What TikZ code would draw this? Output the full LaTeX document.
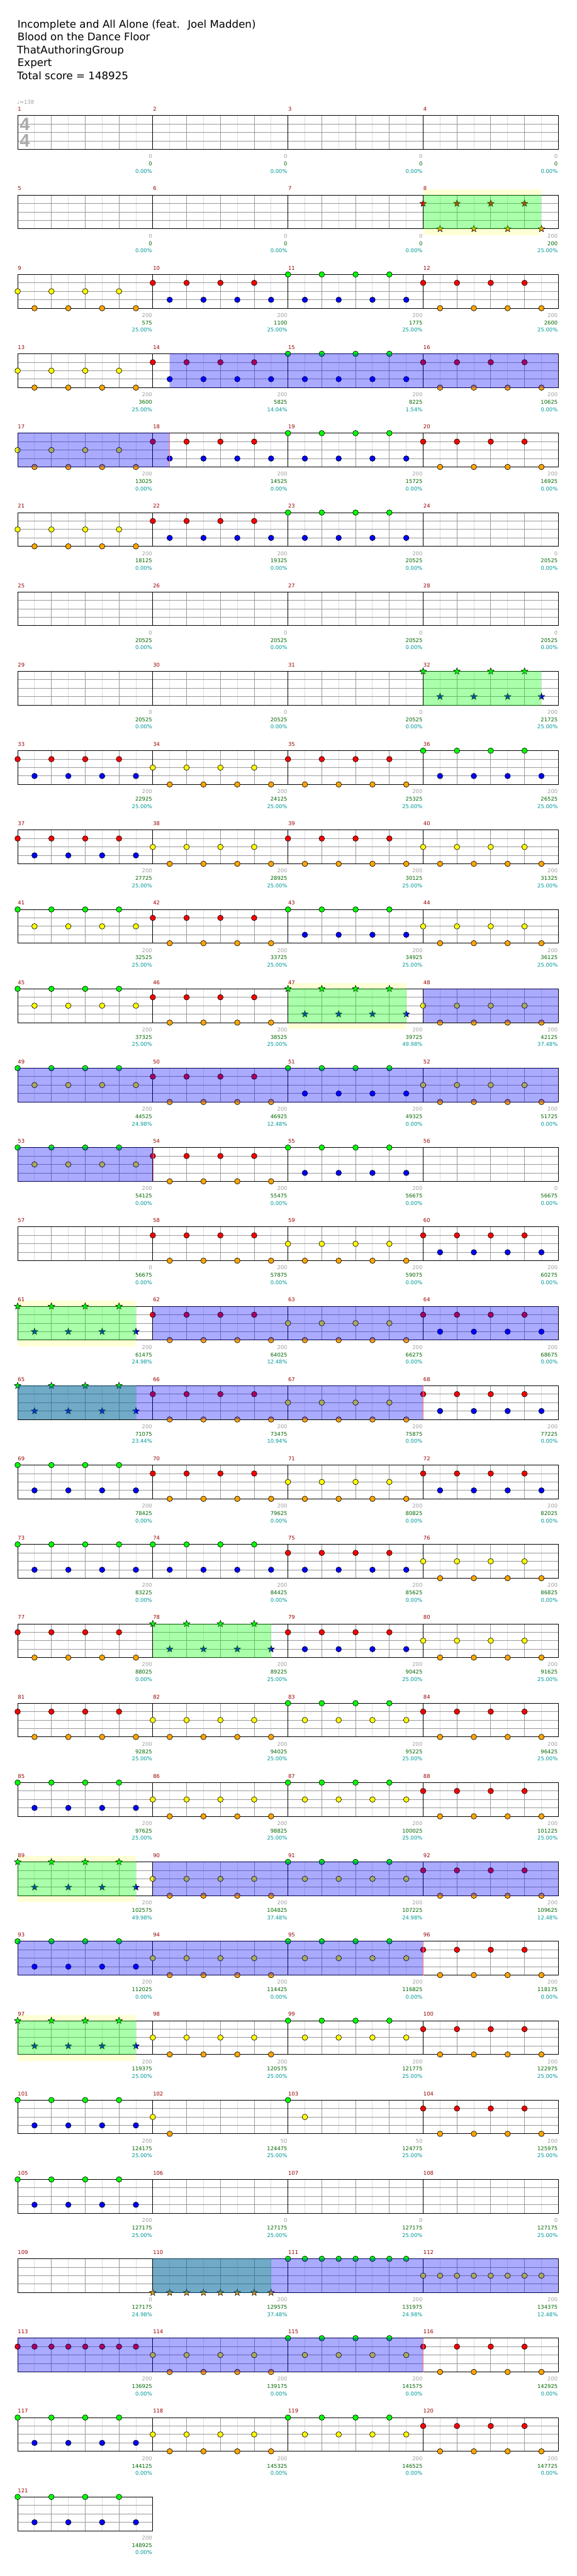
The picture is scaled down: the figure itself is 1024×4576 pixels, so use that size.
\documentclass[tikz,border=0pt]{standalone}
\usepackage{fontspec}
\setmainfont{DejaVu Sans}
\newfontfamily\lblfont{DejaVu Sans}
\newfontfamily\tsfont{Liberation Sans}
\definecolor{mnred}{RGB}{153,0,0}
\definecolor{scgray}{RGB}{160,160,160}
\definecolor{scgreen}{RGB}{0,102,0}
\definecolor{sccyan}{RGB}{0,153,153}
\definecolor{gridd}{RGB}{153,153,153}
\definecolor{gridl}{RGB}{221,221,221}
\definecolor{spyel}{RGB}{255,255,213}
\definecolor{tsgray}{RGB}{170,170,170}
\definecolor{lane1}{RGB}{0,255,0}
\definecolor{lane2}{RGB}{255,0,0}
\definecolor{lane3}{RGB}{255,255,0}
\definecolor{lane4}{RGB}{0,0,255}
\definecolor{lane5}{RGB}{255,165,0}
\newcommand\mpos[1]{\pgfmathtruncatemacro\rw{(#1-1)/4}\pgfmathsetmacro\xo{31.3+240*(#1-1-4*\rw)}\pgfmathsetmacro\yo{205.5+141*\rw}}
\newcommand\dotn[3]{\filldraw[fill=#3,draw=black,line width=0.7pt] (#1,#2) circle[radius=4.9pt];}
\newcommand\spike[3]{\filldraw[fill=#3,draw=black,line width=0.6pt,shift={(#1,#2)}] (90:6.2pt) -- (126:2.6pt) -- (162:6.2pt) -- (198:2.6pt) -- (234:6.2pt) -- (270:2.6pt) -- (306:6.2pt) -- (342:2.6pt) -- (18:6.2pt) -- (54:2.6pt) -- cycle;}
\tikzset{
  titletext/.style={anchor=base west,inner sep=0pt,font=\fontsize{18.6pt}{22pt}\selectfont},
  lbl/.style={anchor=base east,inner sep=0pt,font=\lblfont\fontsize{9.4pt}{11pt}\selectfont},
  mnum/.style={anchor=base west,inner sep=0pt,text=mnred,font=\lblfont\fontsize{9.4pt}{11pt}\selectfont},
  offbeat/.style={draw=gridl,line width=1pt},
  onbeat/.style={draw=gridd,line width=1pt},
  hline/.style={draw=gridd,line width=1pt},
  barline/.style={draw=black,line width=1pt},
  odfill/.style={fill=blue,fill opacity=0.333},
  spfill/.style={fill=green,fill opacity=0.333},
  tsig/.style={inner sep=0pt,text=tsgray,font=\tsfont\bfseries\fontsize{32pt}{32pt}\selectfont}
}
\begin{document}
\begin{tikzpicture}[x=1pt,y=-1pt]
\useasboundingbox (0,0) rectangle (1024,4576);
\fill[white] (0,0) rectangle (1024,4576);
% title block
\node[titletext] (t1) at (31,49.3) {Incomplete and All Alone (feat.~ Joel Madden)};
\node[titletext] (t2) at (31,72.3) {Blood on the Dance Floor};
\node[titletext] (t3) at (30,95.3) {ThatAuthoringGroup};
\node[titletext] (t4) at (31,118.3) {Expert};
\node[titletext] (t5) at (30,141.3) {Total score = 148925};
\node[anchor=base west,inner sep=0pt,text=scgray,font=\lblfont\fontsize{9.4pt}{11pt}\selectfont] (tempo) at (30,185) {♩=138};
% star power yellow backgrounds
\foreach \m in {8,47,61,89,97}{\mpos{\m}\fill[spyel] (\xo,\yo-10.5) rectangle (\xo+210,\yo+71);}
% staffs
\foreach \k in {0,...,30}{
  \pgfmathsetmacro\yo{205.5+141*\k}
  \ifnum\k=30 \def\nm{1}\else\def\nm{4}\fi
  \pgfmathsetmacro\xe{31.3+240*\nm}
  \pgfmathtruncatemacro\nsub{8*\nm-1}
  \fill[white] (31.3,\yo) rectangle (\xe,\yo+60);
  \foreach \i in {1,...,\nsub}{\pgfmathsetmacro\vx{31.3+30*\i}\ifodd\i\relax\draw[offbeat] (\vx,\yo) -- (\vx,\yo+60);\fi}
  \foreach \yy in {15,30,45}{\draw[hline] (31.3,\yo+\yy) -- (\xe,\yo+\yy);}
  \foreach \i in {1,...,\nsub}{\pgfmathsetmacro\vx{31.3+30*\i}\pgfmathtruncatemacro\md{mod(\i,8)}\ifodd\i\relax\else\ifnum\md=0\relax\draw[barline] (\vx,\yo) -- (\vx,\yo+60);\else\draw[onbeat] (\vx,\yo) -- (\vx,\yo+60);\fi\fi}
  \draw[barline] (31.3,\yo) rectangle (\xe,\yo+60);
}
% time signature
\node[tsig] (ts1) at (44,220.7) {4};
\node[tsig] (ts2) at (44,250.3) {4};
% notes
\foreach \m/\e/\o/\s/\n in {8/2/5/1/8,9/3/5/0/8,10/2/4/0/8,11/1/4/0/8,12/2/5/0/8,13/3/5/0/8,14/2/4/0/8,15/1/4/0/8,16/2/5/0/8,17/3/5/0/8,18/2/4/0/8,19/1/4/0/8,20/2/5/0/8,21/3/5/0/8,22/2/4/0/8,23/1/4/0/8,32/1/4/1/8,33/2/4/0/8,34/3/5/0/8,35/2/5/0/8,36/1/4/0/8,37/2/4/0/8,38/3/5/0/8,39/2/5/0/8,40/3/5/0/8,41/1/3/0/8,42/2/5/0/8,43/1/4/0/8,44/3/5/0/8,45/1/3/0/8,46/2/5/0/8,47/1/4/1/8,48/3/5/0/8,49/1/3/0/8,50/2/5/0/8,51/1/4/0/8,52/3/5/0/8,53/1/3/0/8,54/2/5/0/8,55/1/4/0/8,58/2/5/0/8,59/3/5/0/8,60/2/4/0/8,61/1/4/1/8,62/2/5/0/8,63/3/5/0/8,64/2/4/0/8,65/1/4/1/8,66/2/5/0/8,67/3/5/0/8,68/2/4/0/8,69/1/4/0/8,70/2/5/0/8,71/3/5/0/8,72/2/4/0/8,73/1/4/0/8,74/1/4/0/8,75/2/4/0/8,76/3/5/0/8,77/2/5/0/8,78/1/4/1/8,79/2/4/0/8,80/3/5/0/8,81/2/5/0/8,82/3/5/0/8,83/1/3/0/8,84/2/5/0/8,85/1/4/0/8,86/3/5/0/8,87/1/3/0/8,88/2/5/0/8,89/1/4/1/8,90/3/5/0/8,91/1/3/0/8,92/2/5/0/8,93/1/4/0/8,94/3/5/0/8,95/1/3/0/8,96/2/5/0/8,97/1/4/1/8,98/3/5/0/8,99/1/3/0/8,100/2/5/0/8,101/1/4/0/8,102/3/5/0/2,103/1/3/0/2,104/2/5/0/8,105/1/4/0/8,110/5/5/1/8,111/1/1/0/8,112/3/3/0/8,113/2/2/0/8,114/3/5/0/8,115/1/3/0/8,116/2/5/0/8,117/1/4/0/8,118/3/5/0/8,119/1/3/0/8,120/2/5/0/8,121/1/4/0/8}{
  \mpos{\m}
  \foreach \p in {0,...,7}{
    \ifnum\p<\n\relax
      \ifodd\p\relax\edef\lnum{\o}\else\edef\lnum{\e}\fi
      \ifnum\lnum>0\relax
        \pgfmathsetmacro\nx{\xo+30*\p}
        \pgfmathsetmacro\ny{\yo+15*(\lnum-1)}
        \ifnum\s=1\relax\spike{\nx}{\ny}{lane\lnum}\else\dotn{\nx}{\ny}{lane\lnum}\fi
      \fi
    \fi}
}
% star power regions
\foreach \m in {8,32,47,61,65,78,89,97,110}{\mpos{\m}\fill[spfill] (\xo,\yo-0.5) rectangle (\xo+210,\yo+60.5);}
% overdrive regions
\foreach \k/\a/\b/\z in {3/301.3/991.3/0,4/31.3/301.3/1,11/751.3/991.3/0,12/31.3/991.3/0,13/31.3/271.3/1,15/271.3/991.3/0,16/31.3/751.3/1,22/271.3/991.3/0,23/31.3/751.3/1,27/271.3/991.3/0,28/31.3/751.3/1}{
  \pgfmathsetmacro\yo{205.5+141*\k}
  \fill[odfill] (\a,\yo-0.5) rectangle (\b,\yo+60.5);
  \ifnum\z=1\relax\draw[red!55,line width=0.6pt] (\b,\yo) -- (\b,\yo+60);\fi
}
% labels
\foreach \m/\a/\b/\c in {1/0/0/0.00,2/0/0/0.00,3/0/0/0.00,4/0/0/0.00,5/0/0/0.00,6/0/0/0.00,7/0/0/0.00,8/200/200/25.00,9/200/575/25.00,10/200/1100/25.00,11/200/1775/25.00,12/200/2600/25.00,13/200/3600/25.00,14/200/5825/14.04,15/200/8225/1.54,16/200/10625/0.00,17/200/13025/0.00,18/200/14525/0.00,19/200/15725/0.00,20/200/16925/0.00,21/200/18125/0.00,22/200/19325/0.00,23/200/20525/0.00,24/0/20525/0.00,25/0/20525/0.00,26/0/20525/0.00,27/0/20525/0.00,28/0/20525/0.00,29/0/20525/0.00,30/0/20525/0.00,31/0/20525/0.00,32/200/21725/25.00,33/200/22925/25.00,34/200/24125/25.00,35/200/25325/25.00,36/200/26525/25.00,37/200/27725/25.00,38/200/28925/25.00,39/200/30125/25.00,40/200/31325/25.00,41/200/32525/25.00,42/200/33725/25.00,43/200/34925/25.00,44/200/36125/25.00,45/200/37325/25.00,46/200/38525/25.00,47/200/39725/49.98,48/200/42125/37.48,49/200/44525/24.98,50/200/46925/12.48,51/200/49325/0.00,52/200/51725/0.00,53/200/54125/0.00,54/200/55475/0.00,55/200/56675/0.00,56/0/56675/0.00,57/0/56675/0.00,58/200/57875/0.00,59/200/59075/0.00,60/200/60275/0.00,61/200/61475/24.98,62/200/64025/12.48,63/200/66275/0.00,64/200/68675/0.00,65/200/71075/23.44,66/200/73475/10.94,67/200/75875/0.00,68/200/77225/0.00,69/200/78425/0.00,70/200/79625/0.00,71/200/80825/0.00,72/200/82025/0.00,73/200/83225/0.00,74/200/84425/0.00,75/200/85625/0.00,76/200/86825/0.00,77/200/88025/0.00,78/200/89225/25.00,79/200/90425/25.00,80/200/91625/25.00,81/200/92825/25.00,82/200/94025/25.00,83/200/95225/25.00,84/200/96425/25.00,85/200/97625/25.00,86/200/98825/25.00,87/200/100025/25.00,88/200/101225/25.00,89/200/102575/49.98,90/200/104825/37.48,91/200/107225/24.98,92/200/109625/12.48,93/200/112025/0.00,94/200/114425/0.00,95/200/116825/0.00,96/200/118175/0.00,97/200/119375/25.00,98/200/120575/25.00,99/200/121775/25.00,100/200/122975/25.00,101/200/124175/25.00,102/50/124475/25.00,103/50/124775/25.00,104/200/125975/25.00,105/200/127175/25.00,106/0/127175/25.00,107/0/127175/25.00,108/0/127175/25.00,109/0/127175/24.98,110/200/129575/37.48,111/200/131975/24.98,112/200/134375/12.48,113/200/136925/0.00,114/200/139175/0.00,115/200/141575/0.00,116/200/142925/0.00,117/200/144125/0.00,118/200/145325/0.00,119/200/146525/0.00,120/200/147725/0.00,121/200/148925/0.00}{
  \mpos{\m}
  \pgfmathsetmacro\xr{\xo+239}
  \node[mnum] (n\m) at (\xo+0.3,\yo-8) {\m};
  \node[lbl,text=scgray] (s\m) at (\xr,\yo+76) {\a};
  \node[lbl,text=scgreen] (c\m) at (\xr,\yo+89.3) {\b};
  \node[lbl,text=sccyan] (p\m) at (\xr,\yo+102.3) {\c\%};
}
\end{tikzpicture}
\end{document}
